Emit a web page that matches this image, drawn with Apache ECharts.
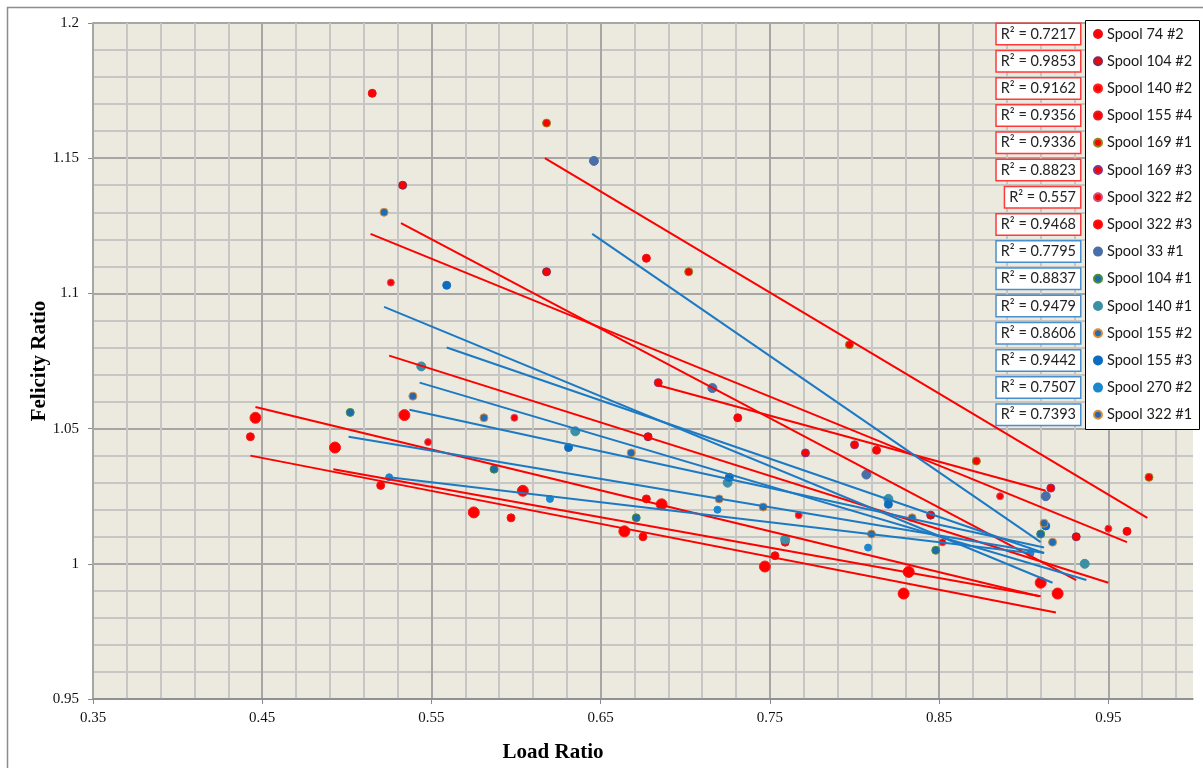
<!DOCTYPE html>
<html><head><meta charset="utf-8">
<script src="https://cdn.jsdelivr.net/npm/echarts@6/dist/echarts.min.js"></script>
<style>html,body{margin:0;padding:0;background:#fff}#c{width:1203px;height:768px}</style>
</head><body><div id="c"></div>
<script>
// ---- data ----
const seriesNames = ['Spool 74 #2','Spool 104 #2','Spool 140 #2','Spool 155 #4','Spool 169 #1','Spool 169 #3','Spool 322 #2','Spool 322 #3',
  'Spool 33 #1','Spool 104 #1','Spool 140 #1','Spool 155 #2','Spool 155 #3','Spool 270 #2','Spool 322 #1'];
const rSquared = ['0.7217','0.9853','0.9162','0.9356','0.9336','0.8823','0.557','0.9468',
  '0.7795','0.8837','0.9479','0.8606','0.9442','0.7507','0.7393'];
const xTicks = [0.35,0.45,0.55,0.65,0.75,0.85,0.95];
const yTicks = [0.95,1,1.05,1.1,1.15,1.2];

// points [load ratio, felicity ratio]
const sp74_2  = [[0.515,1.174],[0.677,1.113],[0.731,1.054],[0.813,1.042],[0.961,1.012]];
const sp104_2 = [[0.533,1.140],[0.618,1.108],[0.678,1.047],[0.845,1.018],[0.931,1.010]];
const sp140_2 = [[0.446,1.054],[0.534,1.055],[0.604,1.027],[0.686,1.022],[0.747,0.999],[0.910,0.993]];
const sp155_4 = [[0.443,1.047],[0.520,1.029],[0.597,1.017],[0.677,1.024],[0.675,1.010],[0.753,1.003],[0.759,1.008]];
const sp169_1 = [[0.618,1.163],[0.702,1.108],[0.797,1.081],[0.872,1.038],[0.974,1.032]];
const sp169_3 = [[0.684,1.067],[0.771,1.041],[0.800,1.044],[0.916,1.028]];
const sp322_2 = [[0.526,1.104],[0.548,1.045],[0.599,1.054],[0.767,1.018],[0.852,1.008],[0.886,1.025],[0.950,1.013]];
const sp322_3 = [[0.493,1.043],[0.575,1.019],[0.664,1.012],[0.829,0.989],[0.832,0.997],[0.920,0.989]];
const sp33_1  = [[0.646,1.149],[0.716,1.065],[0.807,1.033],[0.913,1.025]];
const sp104_1 = [[0.502,1.056],[0.587,1.035],[0.671,1.017],[0.848,1.005],[0.910,1.011]];
const sp140_1 = [[0.544,1.073],[0.635,1.049],[0.725,1.030],[0.759,1.009],[0.820,1.024],[0.936,1.000]];
const sp155_2 = [[0.522,1.130],[0.581,1.054],[0.668,1.041],[0.746,1.021],[0.834,1.017],[0.917,1.008]];
const sp155_3 = [[0.559,1.103],[0.631,1.043],[0.726,1.032],[0.820,1.022],[0.913,1.014]];
const sp270_2 = [[0.525,1.032],[0.620,1.024],[0.719,1.020],[0.808,1.006],[0.904,1.004]];
const sp322_1 = [[0.539,1.062],[0.720,1.024],[0.810,1.011],[0.912,1.015]];

// linear trendline end points [x, y]
const tr74_2  = [[0.514,1.122],[0.961,1.008]];
const tr104_2 = [[0.532,1.126],[0.931,0.994]];
const tr140_2 = [[0.446,1.058],[0.909,0.988]];
const tr155_4 = [[0.443,1.040],[0.919,0.982]];
const tr169_1 = [[0.617,1.150],[0.973,1.017]];
const tr169_3 = [[0.684,1.066],[0.913,1.027]];
const tr322_2 = [[0.525,1.077],[0.950,0.993]];
const tr322_3 = [[0.492,1.035],[0.910,0.988]];
const tr33_1  = [[0.645,1.122],[0.910,1.008]];
const tr104_1 = [[0.501,1.047],[0.912,1.004]];
const tr140_1 = [[0.543,1.067],[0.937,0.994]];
const tr155_2 = [[0.522,1.095],[0.917,0.993]];
const tr155_3 = [[0.559,1.080],[0.912,1.004]];
const tr270_2 = [[0.525,1.032],[0.904,1.004]];
const tr322_1 = [[0.537,1.057],[0.912,1.006]];

// ---- styling (not data) ----
const points = [sp74_2,sp104_2,sp140_2,sp155_4,sp169_1,sp169_3,sp322_2,sp322_3,sp33_1,sp104_1,sp140_1,sp155_2,sp155_3,sp270_2,sp322_1];
const trends = [tr74_2,tr104_2,tr140_2,tr155_4,tr169_1,tr169_3,tr322_2,tr322_3,tr33_1,tr104_1,tr140_1,tr155_2,tr155_3,tr270_2,tr322_1];
const styles = [
  {c:'#FF0000', b:'#E8101A', s:8},
  {c:'#FF0000', b:'#7B2C5E', s:8},
  {c:'#FF0000', b:'#FF2020', s:11},
  {c:'#FF0000', b:'#E02020', s:8},
  {c:'#FF0000', b:'#8C8A1E', s:8},
  {c:'#FF0000', b:'#7A3C8C', s:8},
  {c:'#FF0000', b:'#D0507A', s:7},
  {c:'#FF0000', b:'#FF1010', s:11},
  {c:'#4A6FA8', b:'#4A6FA8', s:9},
  {c:'#1B6CA8', b:'#4E8C3C', s:8},
  {c:'#3B90A6', b:'#3B90A6', s:9},
  {c:'#1F6DB5', b:'#E08B35', s:8},
  {c:'#0D6CC0', b:'#0D6CC0', s:8},
  {c:'#1A88D0', b:'#1A88D0', s:7},
  {c:'#2A66A8', b:'#D9913F', s:8}
];
const redCount = 8;
const RED_LINE = '#FF0000', BLUE_LINE = '#1C7AC4';
const rowY0 = 34, rowStep = 27.2;
const uiFont = 'Lato';

const series = [];
points.forEach((p, i) => {
  series.push({
    name: seriesNames[i], type: 'scatter', data: p,
    symbol: 'circle', symbolSize: styles[i].s,
    itemStyle: {color: styles[i].c, borderColor: styles[i].b, borderWidth: 1, opacity: 1},
    z: 2, silent: true
  });
});
trends.forEach((t, i) => {
  series.push({
    name: 'trend ' + seriesNames[i], type: 'line', data: t,
    symbol: 'none', lineStyle: {color: i < redCount ? RED_LINE : BLUE_LINE, width: 2},
    z: 3, silent: true
  });
});

const graphics = [
  {type:'rect', z: 0, shape:{x:7.5, y:7.5, width:1300, height:900}, style:{fill:'none', stroke:'#8c8c8c', lineWidth:1.5}, silent:true},
  {type:'rect', z: 5, shape:{x:1085.5, y:20.5, width:114, height:409}, style:{fill:'#fff', stroke:'#000', lineWidth:1}, silent:true},
  {type:'text', z: 5, x:553, y:753, style:{text:'Load Ratio', font:'bold 21px "Liberation Serif"', fill:'#000', align:'center', verticalAlign:'middle'}},
  {type:'text', z: 5, x:40, y:361, rotation: Math.PI/2, style:{text:'Felicity Ratio', font:'bold 21px "Liberation Serif"', fill:'#000', align:'center', verticalAlign:'middle'}}
];
rSquared.forEach((r, i) => {
  graphics.push({
    type:'text', z: 6, x:1080, y: rowY0 + i*rowStep,
    style:{text:'R\u00B2 = ' + r, font:'14.5px ' + uiFont, fill:'#222', align:'right', verticalAlign:'middle',
      backgroundColor:'#fff', borderColor: i < redCount ? '#FF3A3A' : '#4A90CF', borderWidth:1.5, padding:[3,4,2,4]}
  });
});

const chart = echarts.init(document.getElementById('c'), null, {renderer:'canvas'});
chart.setOption({
  animation: false,
  backgroundColor: '#fff',
  grid: {left:93, top:23, right:10, bottom:69, show:true, backgroundColor:'#ECEADF', borderWidth:0},
  xAxis: [
    {type:'value', min:xTicks[0], max:1.0, interval:0.1, z:1,
     axisLine:{show:true, onZero:false, lineStyle:{color:'#8a8a8a', width:1.5}},
     axisTick:{show:true, length:5, lineStyle:{color:'#8a8a8a'}},
     axisLabel:{showMaxLabel:false, margin:12, fontFamily:'Liberation Serif', fontSize:15, color:'#111'},
     splitLine:{show:true, showMaxLine:false, lineStyle:{color:'#A6A6A6', width:2}}},
    {type:'value', min:xTicks[0], max:1.0, interval:0.02, z:0, position:'top',
     axisLine:{show:false}, axisTick:{show:false}, axisLabel:{show:false},
     splitLine:{show:true, showMaxLine:false, showMinLine:false, lineStyle:{color:'#C6C6C4', width:2}}}
  ],
  yAxis: {type:'value', min:yTicks[0], max:yTicks[yTicks.length-1], interval:0.05,
    axisLine:{show:true, onZero:false, lineStyle:{color:'#8a8a8a', width:1.5}},
    axisTick:{show:true, length:5, lineStyle:{color:'#8a8a8a'}},
    axisLabel:{margin:14, fontFamily:'Liberation Serif', fontSize:15, color:'#111'},
    splitLine:{show:true, lineStyle:{color:'#A6A6A6', width:2}},
    minorTick:{show:false, splitNumber:5},
    minorSplitLine:{show:true, lineStyle:{color:'#C6C6C4', width:2}}},
  legend: {orient:'vertical', left:1085, top:20, padding:[6,4,6,8], itemGap:11.2, itemWidth:8, itemHeight:8,
    icon:'circle', selectedMode:false, z:7,
    textStyle:{fontFamily:uiFont, fontSize:14.5, color:'#1a1a1a', lineHeight:16},
    data: seriesNames},
  graphic: graphics,
  series: series
});
</script></body></html>
